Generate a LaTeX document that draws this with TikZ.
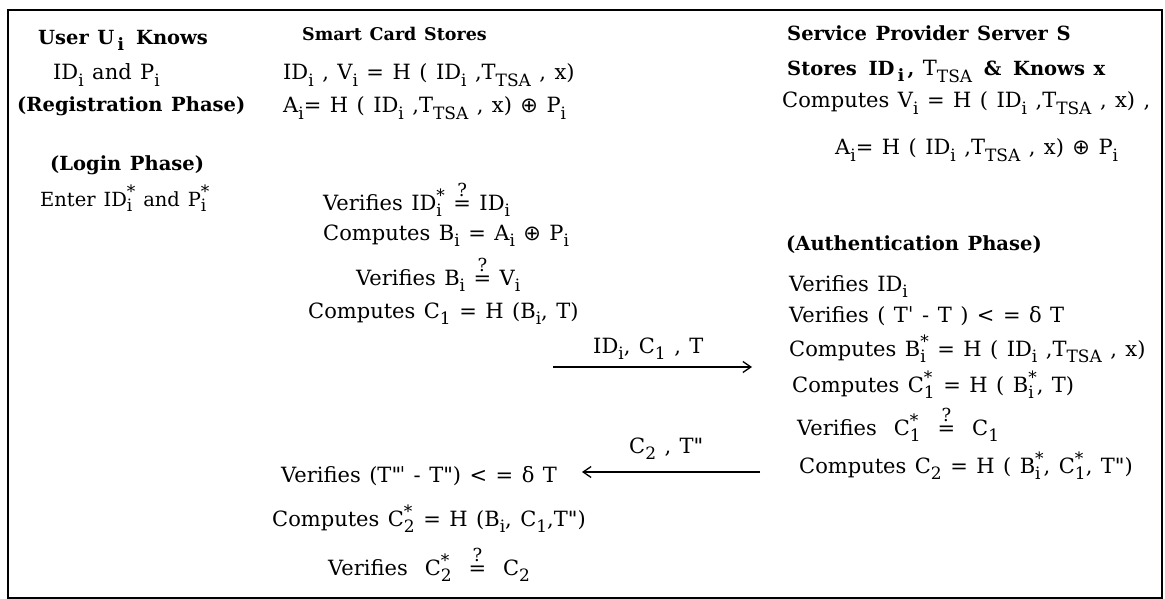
\documentclass[tikz,border=0pt]{standalone}
\usepackage{fontspec}
\setmainfont{DejaVu Serif}[WordSpace=1.27]
\newfontfamily\symf{DejaVu Sans}
\usetikzlibrary{arrows.meta}
\newlength\wa \newlength\wb
\newcommand\subf{\fontsize{17}{17}\selectfont}
\newcommand\lo[1]{\raisebox{-0.3em}{\subf #1}}
\newcommand\lostar[1]{\settowidth\wa{\subf #1}\settowidth\wb{\subf *}%
  \ifdim\wa<\wb \wa=\wb\fi
  \rlap{\raisebox{-0.3em}{\subf #1}}\rlap{\raisebox{0.42em}{\subf *}}\hspace*{\wa}}
\newcommand\qeq{\ooalign{\hfil=\hfil\cr\hfil\raisebox{0.62em}{\fontsize{18}{18}\selectfont ?}\hfil\cr}}
\newcommand\xor{{\symf ⊕}}
\newcommand\pr{{\symf ˈ}}
\newcommand\ppr{{\symf "}}
\newcommand\pppr{{\symf "\kern-0.08emˈ}}
\newcommand\hd[1]{\fontsize{#1}{#1}\selectfont\bfseries}
\newcommand\bodyfont{\fontsize{21}{25}\selectfont}
\begin{document}
\begin{tikzpicture}[x=1pt,y=-1pt,
  txt/.style={anchor=base west,inner sep=0pt,font=\bodyfont},
  msg/.style={line width=1.3pt,-{Straight Barb[length=8pt,width=11pt,line width=1.3pt]}}]
\useasboundingbox (0,0) rectangle (1165,599);
\node[draw,line width=2pt,minimum width=1154pt,minimum height=588pt,anchor=north west,inner sep=0pt] (frame) at (7,9) {};
% left column
\node[txt] (l1) at (38,45) {\hd{19.5}User U\,\lo{\bfseries i}\, Knows};
\node[txt] (l2) at (53,80) {ID\lo{i} and P\lo{i}};
\node[txt] (l3) at (17,112) {\hd{19.5}(Registration Phase)};
\node[txt] (l4) at (50,171) {\hd{19.5}(Login Phase)};
\node[txt] (l5) at (40,206) {\fontsize{19.5}{24}\selectfont Enter ID\lostar{i} and P\lostar{i}};
% middle column
\node[txt] (m1) at (302,41) {\hd{17.5}Smart Card Stores};
\node[txt] (m2) at (283,80) {ID\lo{i} , V\lo{i} = H ( ID\lo{i} ,T\lo{TSA} , x)};
\node[txt] (m3) at (283,113) {A\lo{i}= H ( ID\lo{i} ,T\lo{TSA} , x) \xor\ P\lo{i}};
\node[txt] (m4) at (323,210) {Verifies ID\lostar{i} \qeq\ ID\lo{i}};
\node[txt] (m5) at (323,240) {Computes B\lo{i} = A\lo{i} \xor\ P\lo{i}};
\node[txt] (m6) at (356,285) {Verifies B\lo{i} \qeq\ V\lo{i}};
\node[txt] (m7) at (308,318) {Computes C\lo{1} = H (B\lo{i}, T)};
% right column
\node[txt] (r1) at (787,41) {\hd{19.5}Service Provider Server S};
\node[txt] (r2) at (787,76) {\hd{19.5}Stores\hspace{3pt} ID\,\lo{i}\,, {\mdseries\bodyfont T\lo{TSA}}\hspace{3pt} \&\hspace{3pt} Knows x};
\node[txt] (r3) at (782,108) {Computes V\lo{i} = H ( ID\lo{i} ,T\lo{TSA} , x) ,};
\node[txt] (r4) at (835,155) {A\lo{i}= H ( ID\lo{i} ,T\lo{TSA} , x) \xor\ P\lo{i}};
\node[txt] (r5) at (786,250) {\hd{19.5}(Authentication Phase)};
\node[txt] (r6) at (789,291) {Verifies ID\lo{i}};
\node[txt] (r7) at (789,322) {Verifies ( T\pr\ - T ) < = δ T};
\node[txt] (r8) at (789,356) {Computes B\lostar{i} = H ( ID\lo{i} ,T\lo{TSA} , x)};
\node[txt] (r9) at (792,392) {Computes C\lostar{1} = H ( B\lostar{i}, T)};
\node[txt] (r10) at (797,435) {Verifies\ \ C\lostar{1} \ \qeq\ \ C\lo{1}};
\node[txt] (r11) at (799,473) {Computes C\lo{2} = H ( B\lostar{i}, C\lostar{1}, T\ppr)};
% bottom left
\node[txt] (b1) at (281,482) {Verifies (T\pppr\ - T\ppr) < = δ T};
\node[txt] (b2) at (272,526) {Computes C\lostar{2} = H (B\lo{i}, C\lo{1},T\ppr)};
\node[txt] (b3) at (328,575) {Verifies\ \ C\lostar{2} \ \qeq\ \ C\lo{2}};
% messages
\coordinate (a1s) at (553,367);
\coordinate (a1e) at (752,367);
\draw[msg] (a1s) -- (a1e);
\node[txt] (a1l) at (593,353) {ID\lo{i}, C\lo{1} , T};
\coordinate (a2s) at (760,472);
\coordinate (a2e) at (582,472);
\draw[msg] (a2s) -- (a2e);
\node[txt] (a2l) at (629,453) {C\lo{2} , T\ppr};
\end{tikzpicture}
\end{document}
